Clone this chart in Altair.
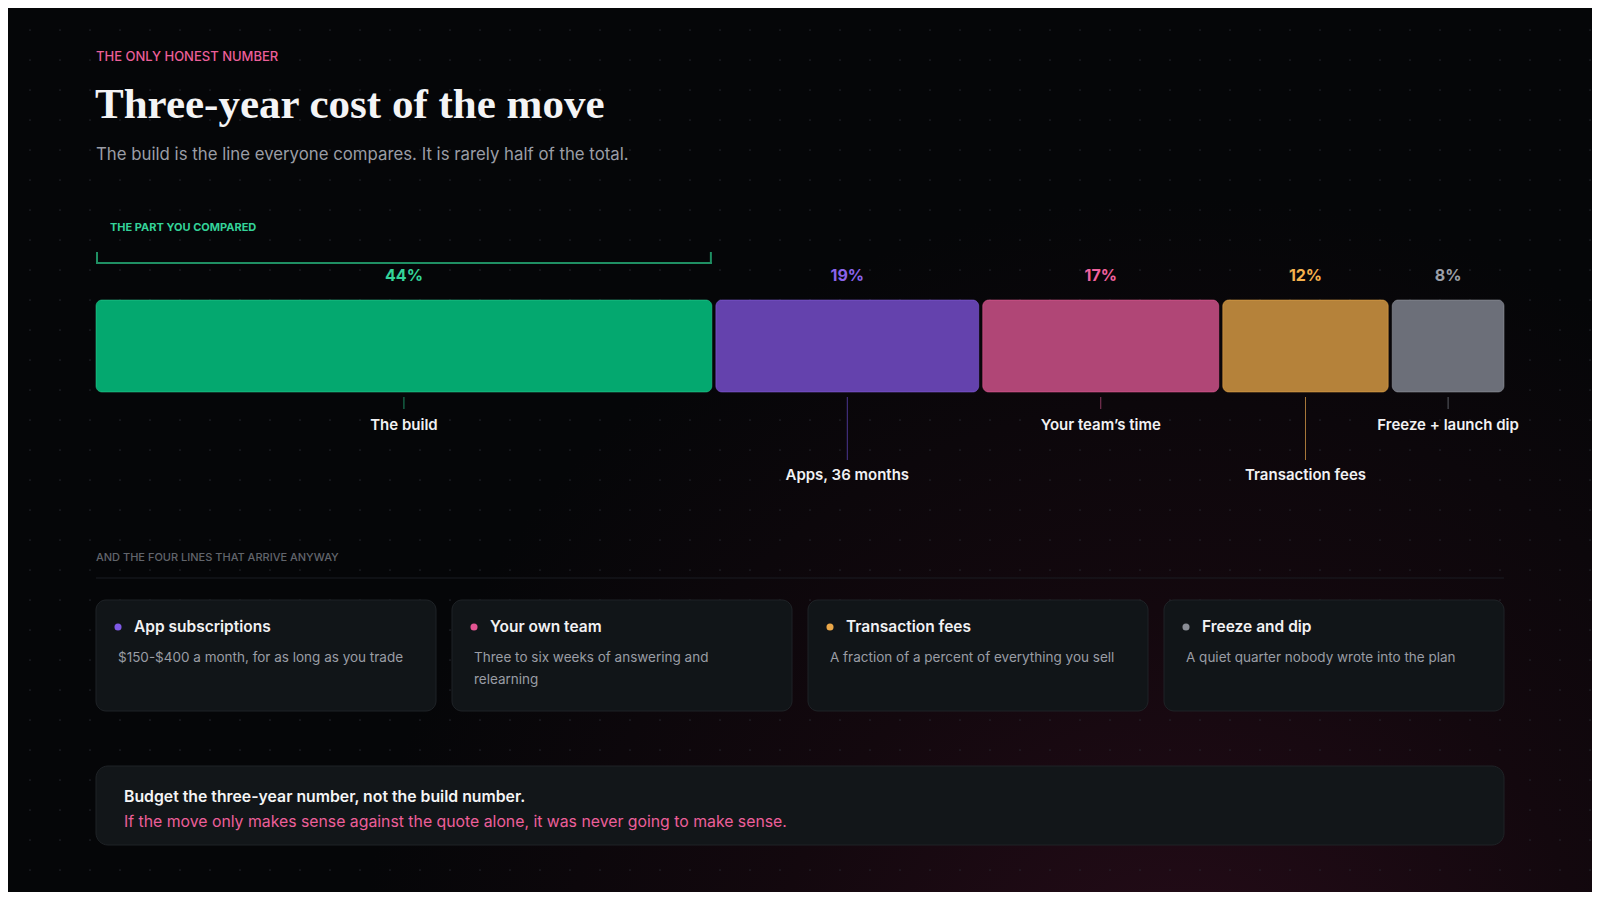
import altair as alt
import numpy as np
import pandas as pd

# ---- text ----
eyebrow = "THE ONLY HONEST NUMBER"
headline = "Three-year cost of the move"
subtitle = "The build is the line everyone compares. It is rarely half of the total."
bracket_label = "THE PART YOU COMPARED"
section_label = "AND THE FOUR LINES THAT ARRIVE ANYWAY"
takeaway = "Budget the three-year number, not the build number."
takeaway_note = "If the move only makes sense against the quote alone, it was never going to make sense."

# ---- the split of the three-year cost (percent) ----
segments = ["The build", "Apps, 36 months", "Your team\u2019s time", "Transaction fees", "Freeze + launch dip"]
shares = [43.9, 18.9, 17.0, 12.0, 8.2]
label_tier = [0, 1, 0, 1, 0]  # 0 = short leader, 1 = long leader
bar_colors = ["#04a86f", "#6442ad", "#b04676", "#b5823a", "#6c6f79"]
text_colors = ["#34d399", "#8b63ea", "#f0619d", "#f5b24e", "#9ca0a8"]
leader_colors = ["#1c8a60", "#4a3690", "#8c3a60", "#a8783a", "#5a5d64"]

# ---- cards ----
card_titles = ["App subscriptions", "Your own team", "Transaction fees", "Freeze and dip"]
card_notes = [
    "$150-$400 a month, for as long as you trade",
    "Three to six weeks of answering and\nrelearning",
    "A fraction of a percent of everything you sell",
    "A quiet quarter nobody wrote into the plan",
]
card_dots = ["#7f5ae6", "#e35592", "#eaa748", "#8a8d95"]

BG = "#050608"
W, H = 1584, 884

ends = np.cumsum(shares)
seg = pd.DataFrame({
    "segment": segments,
    "share": shares,
    "start": ends - np.array(shares),
    "end": ends,
    "tier": label_tier,
})
seg["mid"] = (seg["start"] + seg["end"]) / 2
seg["pct"] = seg["share"].round().astype(int).astype(str) + "%"

cards = pd.DataFrame({"slot": range(len(card_titles)), "title": card_titles, "note": card_notes})

xs = alt.Scale(domain=[0, 100], range=[88, 1500])
cs = alt.Scale(domain=[0, 4], range=[88, 1512])   # card slots, 356px apart
px = alt.Scale(domain=[0, W], range=[0, W])
py = alt.Scale(domain=[0, H], range=[0, H])


def caption(text, x, y, size, color, weight="normal", font="Inter", align="left", baseline="middle"):
    return alt.Chart(pd.DataFrame({"t": [text]})).mark_text(
        font=font, fontSize=size, fontWeight=weight, color=color, align=align, baseline=baseline
    ).encode(x=alt.value(x), y=alt.value(y), text="t:N")


# background glow + dot texture
one = pd.DataFrame({"k": [0]})
glow = alt.Chart(one).mark_rect(fill={
    "gradient": "radial", "x1": 0.74, "y1": 0.86, "x2": 0.74, "y2": 0.86, "r1": 0, "r2": 0.52,
    "stops": [
        {"offset": 0, "color": "#260c19"},
        {"offset": 0.5, "color": "#13080e"},
        {"offset": 1, "color": BG},
    ],
}).encode(x=alt.value(0), x2=alt.value(W), y=alt.value(0), y2=alt.value(H))

gx, gy = np.meshgrid(np.arange(30, 1600, 30) - 8, np.arange(30, 900, 30) - 8)
grid = pd.DataFrame({"gx": gx.ravel(), "gy": gy.ravel()})
dots = alt.Chart(grid).mark_circle(size=3, color="#2c2f37", opacity=0.75).encode(
    x=alt.X("gx:Q", scale=px, axis=None), y=alt.Y("gy:Q", scale=py, axis=None)
)

# bracket over the build
build = seg.iloc[[0]]
br_h = alt.Chart(build).mark_rule(color="#1f8f63", strokeWidth=2, x2Offset=-4).encode(
    x=alt.X("start:Q", scale=xs, axis=None), x2="end:Q", y=alt.value(255)
)
br_l = alt.Chart(build).mark_rule(color="#1f8f63", strokeWidth=2, xOffset=1).encode(
    x=alt.X("start:Q", scale=xs, axis=None), y=alt.value(244), y2=alt.value(256)
)
br_r = alt.Chart(build).mark_rule(color="#1f8f63", strokeWidth=2, xOffset=-5).encode(
    x=alt.X("end:Q", scale=xs, axis=None), y=alt.value(244), y2=alt.value(256)
)

bars = alt.Chart(seg).mark_bar(cornerRadius=6, x2Offset=-4, strokeWidth=1, strokeOpacity=0.5).encode(
    x=alt.X("start:Q", scale=xs, axis=None),
    x2="end:Q",
    y=alt.value(292),
    y2=alt.value(384),
    color=alt.Color("segment:N", scale=alt.Scale(domain=segments, range=bar_colors), legend=None),
    stroke=alt.Stroke("segment:N", scale=alt.Scale(domain=segments, range=text_colors), legend=None),
)

pcts = alt.Chart(seg).mark_text(font="Inter", fontSize=16, fontWeight="bold", baseline="middle", dx=-2).encode(
    x=alt.X("mid:Q", scale=xs, axis=None),
    y=alt.value(268),
    text="pct:N",
    color=alt.Color("segment:N", scale=alt.Scale(domain=segments, range=text_colors), legend=None),
)

leaders = alt.Chart(seg).mark_rule(strokeWidth=1, xOffset=-2).encode(
    x=alt.X("mid:Q", scale=xs, axis=None),
    y=alt.Y("tier:Q", scale=alt.Scale(domain=[0, 1], range=[401, 452]), axis=None),
    y2=alt.value(389),
    color=alt.Color("segment:N", scale=alt.Scale(domain=segments, range=leader_colors), legend=None),
)

names = alt.Chart(seg).mark_text(font="Inter", fontSize=15, fontWeight=600, color="#f1f1f3",
                                 baseline="middle", dx=-2).encode(
    x=alt.X("mid:Q", scale=xs, axis=None),
    y=alt.Y("tier:Q", scale=alt.Scale(domain=[0, 1], range=[416.5, 466.5]), axis=None),
    text="segment:N",
)

# divider + cards
divider = alt.Chart(one).mark_rule(color="#1a1d22", strokeWidth=1).encode(
    x=alt.value(88), x2=alt.value(1496), y=alt.value(570)
)
card_box = alt.Chart(cards).mark_rect(cornerRadius=10, fill="#111518", stroke="#1f2327",
                                      strokeWidth=1, x2Offset=340).encode(
    x=alt.X("slot:Q", scale=cs, axis=None), x2="slot:Q", y=alt.value(592), y2=alt.value(703)
)
card_dot = alt.Chart(cards).mark_circle(size=50, opacity=1, xOffset=22).encode(
    x=alt.X("slot:Q", scale=cs, axis=None),
    y=alt.value(619),
    color=alt.Color("title:N", scale=alt.Scale(domain=card_titles, range=card_dots), legend=None),
)
card_head = alt.Chart(cards).mark_text(font="Inter", fontSize=15.5, fontWeight=600, color="#f1f1f3",
                                       align="left", baseline="middle", dx=38).encode(
    x=alt.X("slot:Q", scale=cs, axis=None),
    y=alt.value(619),
    text="title:N",
)
card_note = alt.Chart(cards).mark_text(font="Inter", fontSize=13.5, color="#9a9da5", align="left",
                                       baseline="top", lineBreak="\n", lineHeight=22, dx=22).encode(
    x=alt.X("slot:Q", scale=cs, axis=None),
    y=alt.value(643),
    text="note:N",
)

# takeaway box
box = alt.Chart(one).mark_rect(cornerRadius=12, fill="#121619", stroke="#1f2327", strokeWidth=1).encode(
    x=alt.value(88), x2=alt.value(1496), y=alt.value(758), y2=alt.value(837)
)

chart = alt.layer(
    glow, dots,
    caption(eyebrow, 88, 49, 13, "#ec5f99", weight=500),
    caption(headline, 87, 110, 43, "#f4f4f5", weight="bold", font="Liberation Serif", baseline="alphabetic"),
    caption(subtitle, 88, 147, 16.8, "#9a9da5"),
    caption(bracket_label, 102, 220, 11, "#34d399", weight="bold"),
    br_h, br_l, br_r,
    bars, pcts, leaders, names,
    caption(section_label, 88, 550, 11, "#62656c", weight=500),
    divider, card_box, card_dot, card_head, card_note,
    box,
    caption(takeaway, 116, 789, 15.8, "#f4f4f5", weight=600),
    caption(takeaway_note, 116, 814, 15.8, "#ec5f99"),
).resolve_scale(
    x="independent", y="independent", color="independent", stroke="independent"
).properties(
    width=W, height=H, background=BG, padding=0,
    autosize=alt.AutoSizeParams(type="none"),
).configure_view(strokeWidth=0)

chart.save("out.html", embed_options={"renderer": "svg", "actions": False})
